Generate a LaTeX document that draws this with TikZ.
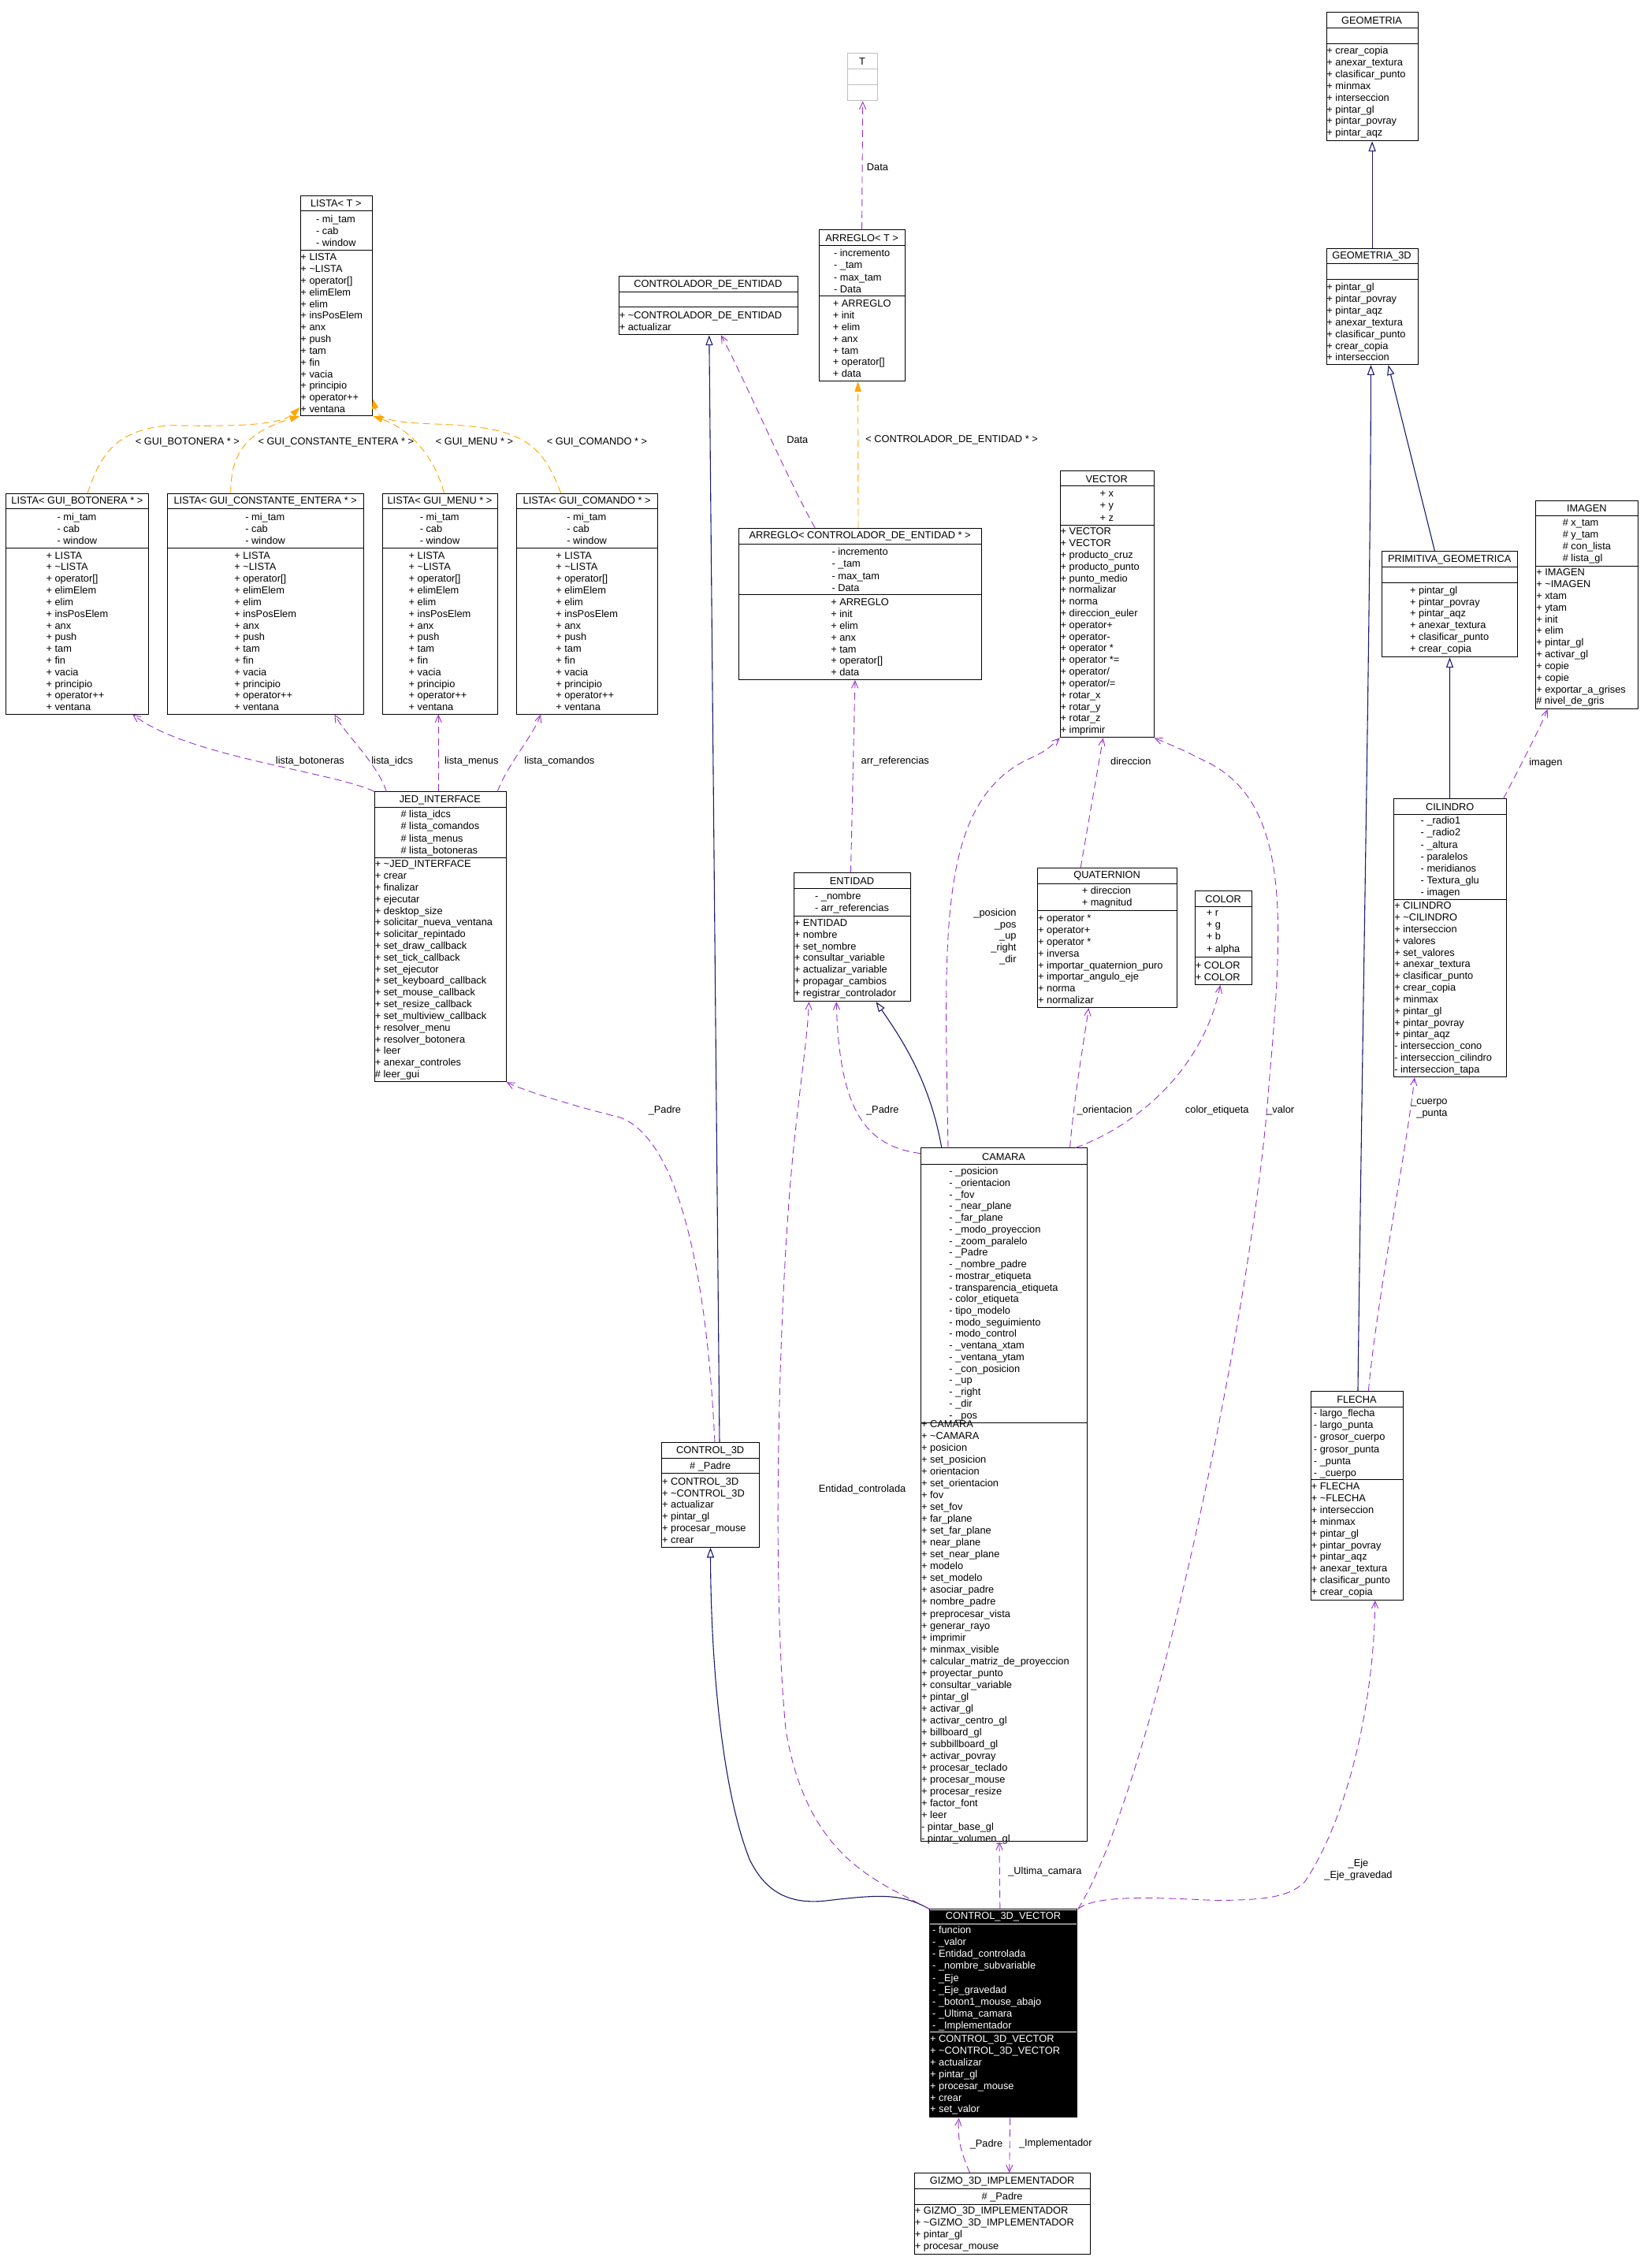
\documentclass[tikz,border=0pt]{standalone}
\usepackage{fontspec}
\setmainfont{Liberation Sans}
\usetikzlibrary{arrows.meta,calc}
\definecolor{purp}{HTML}{9A32CD}
\definecolor{navy}{HTML}{191970}
\definecolor{orng}{HTML}{FFA500}
\newcommand\tl{\textasciitilde}
\newcommand\ucls[8]{%
 \node[draw,inner sep=0,minimum width={(#3)-(#2)},minimum height={(#7)-(#4)},anchor=north west,bx] (#1) at (#2,#4) {};
 \draw[bx] (#2,#5) -- (#3,#5); \draw[bx] (#2,#6) -- (#3,#6);
 \node[t] (#1-t) at ({(#2+#3)/2},{(#4+#5)/2+0.3}) {#8};
 \coordinate (#1-a) at ({(#2+#3)/2},{(#5+#6)/2+0.3});
 \coordinate (#1-al) at ({#2+2},{(#5+#6)/2+0.3});
 \coordinate (#1-ml) at ({#2+0.3},{(#6+#7)/2+0.3});
 \coordinate (#1-mc) at ({(#2+#3)/2},{(#6+#7)/2+0.3});}
\newcommand\uatt[2]{\node[t,font=\fontsize{7}{8.3}\selectfont] at (#1-a) {#2};}
\newcommand\uattL[2]{\node[t,font=\fontsize{7}{8.3}\selectfont,anchor=west] at (#1-al) {#2};}
\newcommand\umL[2]{\node[t,anchor=west] at (#1-ml) {#2};}
\newcommand\umC[2]{\node[t] at (#1-mc) {#2};}
\newcommand\lmeth{+ LISTA\\+ \tl LISTA\\+ operator[]\\+ elimElem\\+ elim\\+ insPosElem\\+ anx\\+ push\\+ tam\\+ fin\\+ vacia\\+ principio\\+ operator++\\+ ventana}
\newcommand\latt{- mi\_tam\\- cab\\- window}
\newcommand\aatt{- incremento\\- \_tam\\- max\_tam\\- Data}
\newcommand\ameth{+ ARREGLO\\+ init\\+ elim\\+ anx\\+ tam\\+ operator[]\\+ data}
\begin{document}
\begin{tikzpicture}[x=1pt,y=-1pt,
 t/.style={font=\fontsize{7}{8.1}\selectfont,inner sep=0,align=left},
 bx/.style={draw=black,line width=0.5pt},
 use/.style={draw=purp,line width=0.5pt,dash pattern=on 5pt off 3pt,-{Straight Barb[length=5pt,width=4.5pt]}},
 inh/.style={draw=navy,line width=0.6pt,-{Triangle[open,length=7pt,width=5pt]}},
 tmpl/.style={draw=orng,line width=0.5pt,dash pattern=on 5pt off 3pt,-{Triangle[length=7pt,width=4.5pt]}}]
\useasboundingbox[fill=white] (0,0) rectangle (1140,1573);
% classes
\ucls{listaT}{208}{258}{135.5}{146.4}{173.5}{288}{LISTA< T >}
\uatt{listaT}{\latt}\umL{listaT}{\lmeth}
\ucls{lbot}{4}{103}{342}{353}{380}{495}{LISTA< GUI\_BOTONERA * >}
\uatt{lbot}{\latt}\umC{lbot}{\lmeth}
\ucls{lconst}{116}{252}{342}{353}{380}{495}{LISTA< GUI\_CONSTANTE\_ENTERA * >}
\uatt{lconst}{\latt}\umC{lconst}{\lmeth}
\ucls{lmenu}{265}{345}{342}{353}{380}{495}{LISTA< GUI\_MENU * >}
\uatt{lmenu}{\latt}\umC{lmenu}{\lmeth}
\ucls{lcom}{358}{456}{342}{353}{380}{495}{LISTA< GUI\_COMANDO * >}
\uatt{lcom}{\latt}\umC{lcom}{\lmeth}
\ucls{ctrlent}{429}{553}{191.5}{202.7}{213}{232}{CONTROLADOR\_DE\_ENTIDAD}
\umL{ctrlent}{+ \tl CONTROLADOR\_DE\_ENTIDAD\\+ actualizar}
\begin{scope}[bx/.style={draw=black!25,line width=0.6pt}]
\ucls{Tt}{587.6}{608.4}{36.8}{47.7}{58.6}{69.6}{T}
\end{scope}
\ucls{arrT}{568}{627.5}{159.2}{170.3}{205.1}{264.1}{ARREGLO< T >}
\uatt{arrT}{\aatt}\umC{arrT}{\ameth}
\ucls{arrC}{512.2}{680.5}{366.1}{377.4}{412.3}{471.2}{ARREGLO< CONTROLADOR\_DE\_ENTIDAD * >}
\uatt{arrC}{\aatt}\umC{arrC}{\ameth}
\ucls{vector}{735}{800}{326.4}{337.2}{364.3}{511.3}{VECTOR}
\uatt{vector}{+ x\\+ y\\+ z}
\umL{vector}{+ VECTOR\\+ VECTOR\\+ producto\_cruz\\+ producto\_punto\\+ punto\_medio\\+ normalizar\\+ norma\\+ direccion\_euler\\+ operator+\\+ operator-\\+ operator *\\+ operator *=\\+ operator/\\+ operator/=\\+ rotar\_x\\+ rotar\_y\\+ rotar\_z\\+ imprimir}
\ucls{quat}{719.4}{816}{601.9}{612.7}{631.4}{698.6}{QUATERNION}
\uatt{quat}{+ direccion\\+ magnitud}
\umL{quat}{+ operator *\\+ operator+\\+ operator *\\+ inversa\\+ importar\_quaternion\_puro\\+ importar\_angulo\_eje\\+ norma\\+ normalizar}
\ucls{color}{828.6}{868}{617.8}{628.6}{663.8}{682.7}{COLOR}
\uatt{color}{+ r\\+ g\\+ b\\+ alpha}
\umL{color}{+ COLOR\\+ COLOR}
\ucls{geom}{919.6}{983}{8.4}{19.2}{30.3}{97.5}{GEOMETRIA}
\umL{geom}{+ crear\_copia\\+ anexar\_textura\\+ clasificar\_punto\\+ minmax\\+ interseccion\\+ pintar\_gl\\+ pintar\_povray\\+ pintar\_aqz}
\ucls{geomD}{919.6}{983}{171.9}{182.8}{193.7}{252.6}{GEOMETRIA\_3D}
\umL{geomD}{+ pintar\_gl\\+ pintar\_povray\\+ pintar\_aqz\\+ anexar\_textura\\+ clasificar\_punto\\+ crear\_copia\\+ interseccion}
\ucls{prim}{958.3}{1052.1}{382.2}{393.3}{404.2}{455.5}{PRIMITIVA\_GEOMETRICA}
\umC{prim}{+ pintar\_gl\\+ pintar\_povray\\+ pintar\_aqz\\+ anexar\_textura\\+ clasificar\_punto\\+ crear\_copia}
\ucls{imagen}{1064.9}{1136}{346.8}{357.9}{392.5}{491.5}{IMAGEN}
\uatt{imagen}{\# x\_tam\\\# y\_tam\\\# con\_lista\\\# lista\_gl}
\umL{imagen}{+ IMAGEN\\+ \tl IMAGEN\\+ xtam\\+ ytam\\+ init\\+ elim\\+ pintar\_gl\\+ activar\_gl\\+ copie\\+ copie\\+ exportar\_a\_grises\\\# nivel\_de\_gris}
\ucls{cil}{966.5}{1044.5}{553.9}{564.8}{623.9}{746.8}{CILINDRO}
\uatt{cil}{- \_radio1\\- \_radio2\\- \_altura\\- paralelos\\- meridianos\\- Textura\_glu\\- imagen}
\umL{cil}{+ CILINDRO\\+ \tl CILINDRO\\+ interseccion\\+ valores\\+ set\_valores\\+ anexar\_textura\\+ clasificar\_punto\\+ crear\_copia\\+ minmax\\+ pintar\_gl\\+ pintar\_povray\\+ pintar\_aqz\\- interseccion\_cono\\- interseccion\_cilindro\\- interseccion\_tapa}
\ucls{flecha}{908.9}{972.9}{964.7}{975.8}{1026.4}{1109.5}{FLECHA}
\uattL{flecha}{- largo\_flecha\\- largo\_punta\\- grosor\_cuerpo\\- grosor\_punta\\- \_punta\\- \_cuerpo}
\umL{flecha}{+ FLECHA\\+ \tl FLECHA\\+ interseccion\\+ minmax\\+ pintar\_gl\\+ pintar\_povray\\+ pintar\_aqz\\+ anexar\_textura\\+ clasificar\_punto\\+ crear\_copia}
\ucls{jed}{259.6}{350.8}{549}{560}{595}{750}{JED\_INTERFACE}
\uatt{jed}{\# lista\_idcs\\\# lista\_comandos\\\# lista\_menus\\\# lista\_botoneras}
\umL{jed}{+ \tl JED\_INTERFACE\\+ crear\\+ finalizar\\+ ejecutar\\+ desktop\_size\\+ solicitar\_nueva\_ventana\\+ solicitar\_repintado\\+ set\_draw\_callback\\+ set\_tick\_callback\\+ set\_ejecutor\\+ set\_keyboard\_callback\\+ set\_mouse\_callback\\+ set\_resize\_callback\\+ set\_multiview\_callback\\+ resolver\_menu\\+ resolver\_botonera\\+ leer\\+ anexar\_controles\\\# leer\_gui}
\ucls{entidad}{550.4}{631.3}{605.3}{616.2}{635.2}{694.3}{ENTIDAD}
\uatt{entidad}{- \_nombre\\- arr\_referencias}
\umL{entidad}{+ ENTIDAD\\+ nombre\\+ set\_nombre\\+ consultar\_variable\\+ actualizar\_variable\\+ propagar\_cambios\\+ registrar\_controlador}
\ucls{camara}{638.5}{753.6}{796}{807.7}{986.7}{1277}{CAMARA}
\node[t,font=\fontsize{7}{8.05}\selectfont] at (camara-a) {- \_posicion\\- \_orientacion\\- \_fov\\- \_near\_plane\\- \_far\_plane\\- \_modo\_proyeccion\\- \_zoom\_paralelo\\- \_Padre\\- \_nombre\_padre\\- mostrar\_etiqueta\\- transparencia\_etiqueta\\- color\_etiqueta\\- tipo\_modelo\\- modo\_seguimiento\\- modo\_control\\- \_ventana\_xtam\\- \_ventana\_ytam\\- \_con\_posicion\\- \_up\\- \_right\\- \_dir\\- \_pos};
\node[t,anchor=west,font=\fontsize{7}{8.22}\selectfont] at (camara-ml) {+ CAMARA\\+ \tl CAMARA\\+ posicion\\+ set\_posicion\\+ orientacion\\+ set\_orientacion\\+ fov\\+ set\_fov\\+ far\_plane\\+ set\_far\_plane\\+ near\_plane\\+ set\_near\_plane\\+ modelo\\+ set\_modelo\\+ asociar\_padre\\+ nombre\_padre\\+ preprocesar\_vista\\+ generar\_rayo\\+ imprimir\\+ minmax\_visible\\+ calcular\_matriz\_de\_proyeccion\\+ proyectar\_punto\\+ consultar\_variable\\+ pintar\_gl\\+ activar\_gl\\+ activar\_centro\_gl\\+ billboard\_gl\\+ subbillboard\_gl\\+ activar\_povray\\+ procesar\_teclado\\+ procesar\_mouse\\+ procesar\_resize\\+ factor\_font\\+ leer\\- pintar\_base\_gl\\- pintar\_volumen\_gl};
\ucls{ctrl3d}{458.7}{526.4}{1000.4}{1011.3}{1022}{1072.8}{CONTROL\_3D}
\uatt{ctrl3d}{\# \_Padre}
\umL{ctrl3d}{+ CONTROL\_3D\\+ \tl CONTROL\_3D\\+ actualizar\\+ pintar\_gl\\+ procesar\_mouse\\+ crear}
\begin{scope}[bx/.style={draw=white,line width=0.6pt},t/.append style={text=white}]
\fill[black] (644.5,1324) rectangle (747,1468.3);
\ucls{cv}{644.5}{747}{1324}{1334.5}{1409.5}{1468.3}{CONTROL\_3D\_VECTOR}
\draw[black,line width=0.6pt] (644.5,1324) rectangle (747,1468.3);
\uattL{cv}{- funcion\\- \_valor\\- Entidad\_controlada\\- \_nombre\_subvariable\\- \_Eje\\- \_Eje\_gravedad\\- \_boton1\_mouse\_abajo\\- \_Ultima\_camara\\- \_Implementador}
\umL{cv}{+ CONTROL\_3D\_VECTOR\\+ \tl CONTROL\_3D\_VECTOR\\+ actualizar\\+ pintar\_gl\\+ procesar\_mouse\\+ crear\\+ set\_valor}
\end{scope}
\ucls{gizmo}{634}{756}{1507}{1518}{1528.7}{1563}{GIZMO\_3D\_IMPLEMENTADOR}
\uatt{gizmo}{\# \_Padre}
\umL{gizmo}{+ GIZMO\_3D\_IMPLEMENTADOR\\+ \tl GIZMO\_3D\_IMPLEMENTADOR\\+ pintar\_gl\\+ procesar\_mouse}
% template instantiations
\draw[tmpl] ([xshift=56.7pt]lbot.north west) .. controls (70,315) and (80,298) .. (118,295) .. controls (160,296) and (195,295) .. ([yshift=6pt]listaT.south west);
\draw[tmpl] ([xshift=44pt]lconst.north west) .. controls (160,315) and (170,300) .. (listaT.south west);
\draw[tmpl] ([xshift=43pt]lmenu.north west) .. controls (300,312) and (280,296) .. (listaT.south east);
\draw[tmpl] ([xshift=31pt]lcom.north west) .. controls (375,305) and (360,296) .. (300,294) .. controls (270,293) and (262,290) .. ([yshift=12pt]listaT.south east);
\draw[tmpl] ([xshift=83pt]arrC.north west) -- ([xshift=27pt]arrT.south west);
\node[t] at (130,307) {< GUI\_BOTONERA * >};
\node[t] at (233,307) {< GUI\_CONSTANTE\_ENTERA * >};
\node[t] at (329,307) {< GUI\_MENU * >};
\node[t] at (414,307) {< GUI\_COMANDO * >};
\node[t] at (660,305) {< CONTROLADOR\_DE\_ENTIDAD * >};
% inheritance
\draw[inh] ([xshift=40.3pt]ctrl3d.north west) -- ([xshift=62.8pt]ctrlent.south west);
\draw[inh] (cv.north west) .. controls (625,1313) and (610,1314) .. (575,1318) .. controls (545,1322) and (530,1310) .. (520,1290) .. controls (500,1240) and (493,1150) .. ([xshift=34pt]ctrl3d.south west);
\draw[inh] ([xshift=14.5pt]camara.north west) .. controls (645,750) and (625,720) .. ([xshift=57.1pt]entidad.south west);
\draw[inh] ([xshift=32.8pt]flecha.north west) .. controls (945,700) and (950.7,400) .. ([xshift=31.1pt]geomD.south west);
\draw[inh] ([xshift=36.7pt]prim.north west) -- ([xshift=43.2pt]geomD.south west);
\draw[inh] ([xshift=38.9pt]cil.north west) -- ([xshift=47.1pt]prim.south west);
\draw[inh] ([xshift=32pt]geomD.north west) -- ([xshift=32pt]geom.south west);
% usage
\draw[use] (jed.north west) .. controls (230,535) and (130,525) .. ([xshift=88pt]lbot.south west);
\draw[use] ([xshift=8.4pt]jed.north west) .. controls (262,530) and (240,510) .. ([xshift=116pt]lconst.south west);
\draw[use] ([xshift=44.4pt]jed.north west) -- ([xshift=39pt]lmenu.south west);
\draw[use] ([xshift=85.4pt]jed.north west) .. controls (352,530) and (370,510) .. ([xshift=17pt]lcom.south west);
\node[t] at (215,528) {lista\_botoneras};
\node[t] at (272,528) {lista\_idcs};
\node[t] at (327,528) {lista\_menus};
\node[t] at (388,528) {lista\_comandos};
\draw[use] ([xshift=37pt]ctrl3d.north west) .. controls (490,880) and (470,790) .. (430,775) .. controls (390,765) and (360,755) .. (jed.south east);
\node[t] at (461,770) {\_Padre};
\draw[use] ([xshift=53pt]arrC.north west) .. controls (545,330) and (515,260) .. ([xshift=71pt]ctrlent.south west);
\node[t] at (553,305) {Data};
\draw[use] ([xshift=29.7pt]arrT.north west) -- (Tt.south);
\node[t,anchor=west] at (601,116) {Data};
\draw[use] ([xshift=39.6pt]entidad.north west) -- ([xshift=80.8pt]arrC.south west);
\node[t,anchor=west] at (597,528) {arr\_referencias};
\draw[use] ([xshift=19pt]camara.north west) .. controls (655,650) and (650,560) .. (710,528) .. controls (725,521) .. (vector.south west);
\node[t,align=right,anchor=north east] at (705,630) {\_posicion\\\_pos\\\_up\\\_right\\\_dir};
\draw[use] ([xshift=30pt]quat.north west) -- ([xshift=30pt]vector.south west);
\node[t,anchor=west] at (770,528) {direccion};
\draw[use] ([xshift=103.5pt]camara.north west) .. controls (745,760) and (752,720) .. ([xshift=35.6pt]quat.south west);
\node[t] at (766,770) {\_orientacion};
\draw[use] ([xshift=107.5pt]camara.north west) .. controls (790,780) and (835,740) .. ([xshift=17.7pt]color.south west);
\node[t] at (844,770) {color\_etiqueta};
\draw[use] ([yshift=-4pt]camara.north west) .. controls (600,795) and (582,770) .. ([xshift=29.6pt]entidad.south west);
\node[t] at (612,770) {\_Padre};
\draw[use] (cv.north east) .. controls (800,1240) and (870,900) .. (880,752) .. controls (890,640) and (895,560) .. (840,530) .. controls (820,520) .. (vector.south east);
\node[t] at (888,770) {\_valor};
\draw[use] ([xshift=49pt]cv.north west) -- ([xshift=54.5pt]camara.south west);
\node[t,anchor=west] at (699,1298) {\_Ultima\_camara};
\draw[use] (cv.north east) .. controls (760,1314) and (800,1316) .. (842,1318) .. controls (880,1318) and (895,1315) .. (905,1305) .. controls (935,1260) and (953,1180) .. ([xshift=44.7pt]flecha.south west);
\node[t,align=center] at (942,1297) {\_Eje\\\_Eje\_gravedad};
\draw[use] (cv.north west) .. controls (610,1305) and (560,1290) .. (545,1200) .. controls (535,1100) and (540,900) .. (550,800) .. controls (555,750) and (560,720) .. ([xshift=10.6pt]entidad.south west);
\node[t] at (598,1033) {Entidad\_controlada};
\draw[use] ([xshift=38.6pt]gizmo.north west) .. controls (665,1490) and (664,1480) .. ([xshift=20.5pt]cv.south west);
\node[t] at (684,1487) {\_Padre};
\draw[use] ([xshift=56pt]cv.south west) -- ([xshift=66pt]gizmo.north west);
\node[t] at (732,1487) {\_Implementador};
\draw[use] ([xshift=76.1pt]cil.north west) .. controls (1055,530) and (1068,505) .. ([xshift=8.3pt]imagen.south west);
\node[t] at (1072,529) {imagen};
\draw[use] ([xshift=40.1pt]flecha.north west) .. controls (955,900) and (975,800) .. ([xshift=14.5pt]cil.south west);
\node[t,align=right,anchor=north east] at (1004,762) {\_cuerpo\\\_punta};
\end{tikzpicture}
\end{document}
